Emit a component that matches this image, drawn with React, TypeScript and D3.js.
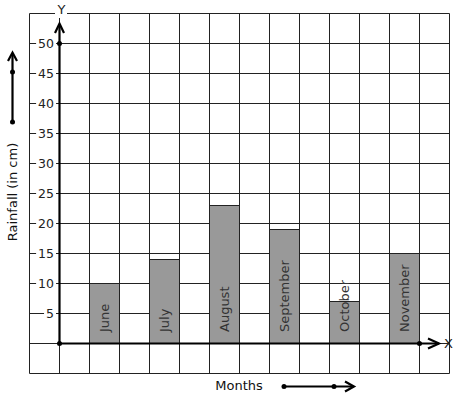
import * as d3 from "d3";
import React, { useEffect, useRef } from "react";

const months = ["June", "July", "August", "September", "October", "November"];
const rainfall = [10, 14, 23, 19, 7, 15];
const yTicks = [5, 10, 15, 20, 25, 30, 35, 40, 45, 50];

const width = 457;
const height = 399;

function Chart() {
  const ref = useRef<SVGSVGElement>(null);

  useEffect(() => {
    if (!ref.current) return;
    const svg = d3.select(ref.current);
    svg.selectChildren().remove();

    // grid: 14 columns x 12 rows, one row = 5 cm
    const x = d3.scaleLinear().domain([-1, 13]).range([29.5, 449.5]);
    const y = d3.scaleLinear().domain([-5, 55]).range([373.5, 13.5]);
    const band = d3
      .scaleBand<string>()
      .domain(months)
      .range([x(1), x(12)])
      .paddingInner(0.5)
      .paddingOuter(0);

    const gridColor = "#222";
    const ink = "#000";

    const grid = svg.append("g").attr("stroke", gridColor).attr("stroke-width", 1);
    grid
      .selectAll("line.v")
      .data(d3.range(-1, 14))
      .join("line")
      .attr("class", "v")
      .attr("x1", (d) => x(d))
      .attr("x2", (d) => x(d))
      .attr("y1", y(55))
      .attr("y2", y(-5));
    grid
      .selectAll("line.h")
      .data(d3.range(-5, 60, 5))
      .join("line")
      .attr("class", "h")
      .attr("x1", x(-1))
      .attr("x2", x(13))
      .attr("y1", (d) => y(d))
      .attr("y2", (d) => y(d));

    // bars
    svg
      .append("g")
      .selectAll("rect")
      .data(rainfall)
      .join("rect")
      .attr("x", (d, i) => band(months[i])!)
      .attr("y", (d) => y(d))
      .attr("width", band.bandwidth())
      .attr("height", (d) => y(0) - y(d))
      .attr("fill", "#999")
      .attr("stroke", gridColor)
      .attr("stroke-width", 1);

    // bar labels
    svg
      .append("g")
      .selectAll("text")
      .data(months)
      .join("text")
      .attr(
        "transform",
        (d) => `translate(${band(d)! + band.bandwidth() / 2 + 4.5},${y(0) - 11.5}) rotate(-90)`
      )
      .attr("font-family", "DejaVu Sans")
      .attr("font-size", 13)
      .attr("fill", "#333")
      .text((d) => d);

    // y tick labels with white boxes
    const ticks = svg.append("g").selectAll("g").data(yTicks).join("g");
    ticks
      .append("rect")
      .attr("x", 36)
      .attr("width", 20)
      .attr("y", (d) => y(d) - 6)
      .attr("height", 11)
      .attr("fill", "#fff");
    ticks
      .append("text")
      .attr("x", 54)
      .attr("y", (d) => y(d))
      .attr("dy", "0.35em")
      .attr("text-anchor", "end")
      .attr("font-family", "DejaVu Sans")
      .attr("font-size", 12.5)
      .attr("fill", "#222")
      .text((d) => d);
    ticks.each(function () {
      const g = d3.select(this);
      const bb = (g.select("text").node() as SVGTextElement).getBBox();
      g.select("rect").attr("x", bb.x - 2).attr("width", bb.width + 4);
    });

    // axes
    const axes = svg
      .append("g")
      .attr("stroke", ink)
      .attr("stroke-width", 2.2)
      .attr("fill", "none");
    axes
      .append("line")
      .attr("x1", x(0))
      .attr("x2", x(0))
      .attr("y1", y(0))
      .attr("y2", 24);
    axes
      .append("path")
      .attr("d", `M${x(0) - 4.5},33 L${x(0)},23.5 L${x(0) + 4.5},33`);
    axes
      .append("line")
      .attr("x1", x(0))
      .attr("x2", 439)
      .attr("y1", y(0))
      .attr("y2", y(0));
    axes
      .append("path")
      .attr("d", `M428,${y(0) - 5} L439,${y(0)} L428,${y(0) + 5}`);

    const dots = [
      [x(0), y(0)],
      [x(0), y(50)],
      [x(12), y(0)],
    ];
    svg
      .append("g")
      .selectAll("circle")
      .data(dots)
      .join("circle")
      .attr("cx", (d) => d[0])
      .attr("cy", (d) => d[1])
      .attr("r", 2.5)
      .attr("fill", ink);

    // axis letters
    svg
      .append("rect")
      .attr("x", 55)
      .attr("y", 4)
      .attr("width", 12)
      .attr("height", 14)
      .attr("fill", "#fff");
    svg
      .append("text")
      .attr("x", 61.5)
      .attr("y", 14)
      .attr("text-anchor", "middle")
      .attr("font-family", "DejaVu Sans")
      .attr("font-size", 13)
      .attr("fill", "#222")
      .text("Y");
    svg
      .append("text")
      .attr("x", 448.5)
      .attr("y", y(0))
      .attr("dy", "0.35em")
      .attr("text-anchor", "middle")
      .attr("font-family", "DejaVu Sans")
      .attr("font-size", 13)
      .attr("fill", "#222")
      .text("X");

    // axis titles
    svg
      .append("text")
      .attr("transform", `translate(17,192) rotate(-90)`)
      .attr("text-anchor", "middle")
      .attr("font-family", "DejaVu Sans")
      .attr("font-size", 13)
      .attr("fill", "#111")
      .text("Rainfall (in cm)");
    svg
      .append("text")
      .attr("x", 239)
      .attr("y", 390)
      .attr("text-anchor", "middle")
      .attr("font-family", "DejaVu Sans")
      .attr("font-size", 13)
      .attr("fill", "#111")
      .text("Months");

    // direction arrows
    const arrows = svg
      .append("g")
      .attr("stroke", ink)
      .attr("stroke-width", 2.2)
      .attr("fill", "none");
    arrows.append("line").attr("x1", 12.5).attr("x2", 12.5).attr("y1", 122).attr("y2", 53);
    arrows.append("path").attr("d", "M8,61 L12.5,52.5 L17,61");
    arrows.append("line").attr("x1", 284).attr("x2", 353).attr("y1", 386.5).attr("y2", 386.5);
    arrows.append("path").attr("d", "M345,381.5 L354,386.5 L345,391.5");
    svg
      .append("g")
      .selectAll("circle")
      .data([
        [12.5, 72],
        [12.5, 122],
        [284, 386.5],
        [334, 386.5],
      ])
      .join("circle")
      .attr("cx", (d) => d[0])
      .attr("cy", (d) => d[1])
      .attr("r", 2.5)
      .attr("fill", ink);
  }, []);

  return <svg ref={ref} width={width} height={height} style={{ display: "block" }}></svg>;
}

export default function App() {
  return (
    <div style={{ position: "absolute", left: 0, top: 0, background: "#fff" }}>
      <Chart />
    </div>
  );
}
